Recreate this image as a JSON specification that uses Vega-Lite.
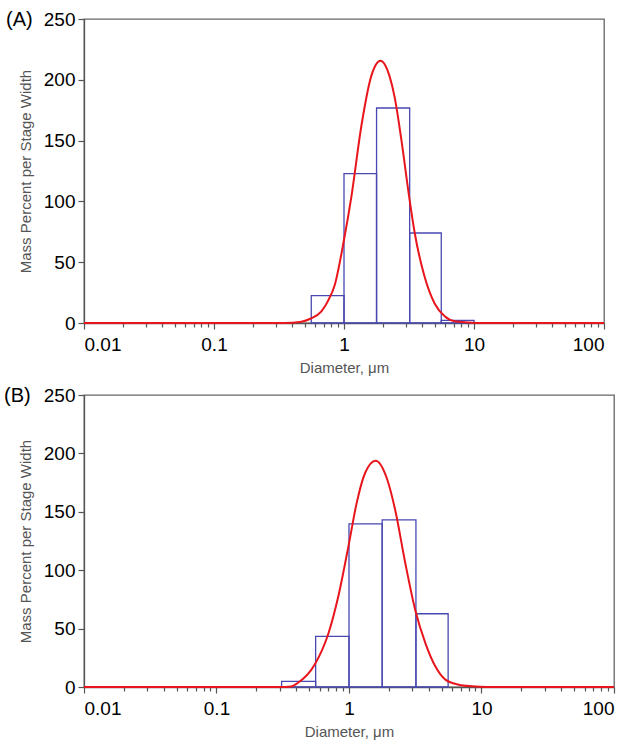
{
  "$schema": "https://vega.github.io/schema/vega-lite/v6.json",
  "padding": {"left": 3, "top": 9, "right": 0, "bottom": 0},
  "background": "white",
  "spacing": 9,
  "config": {
    "font": "Liberation Sans",
    "view": {"stroke": "#666", "strokeWidth": 1.3},
    "axis": {
      "domainColor": "#555", "domainWidth": 1.3, "tickColor": "#555", "tickWidth": 1.2,
      "grid": false, "labelFont": "Liberation Sans", "labelFontSize": 19, "labelColor": "#000",
      "titleFont": "Liberation Sans", "titleFontSize": 15, "titleFontWeight": "normal", "titleColor": "#555"
    },
    "title": {"font": "Liberation Sans", "fontSize": 20, "fontWeight": "normal", "color": "#000"}
  },
  "datasets": {
    "barsA": [
      {"lo": 0.56, "hi": 1.0, "v": 22.5},
      {"lo": 1.0, "hi": 1.78, "v": 122.8},
      {"lo": 1.78, "hi": 3.2, "v": 176.8},
      {"lo": 3.2, "hi": 5.6, "v": 74},
      {"lo": 5.6, "hi": 10, "v": 2.2}
    ],
    "curveA": [
      {"d": 0.01, "v": 0}, {"d": 0.3, "v": 0}, {"d": 0.4, "v": 0.3}, {"d": 0.47, "v": 1},
      {"d": 0.55, "v": 3.5}, {"d": 0.67, "v": 9.6}, {"d": 0.75, "v": 17.8}, {"d": 0.85, "v": 31.5},
      {"d": 1.0, "v": 68.5}, {"d": 1.14, "v": 104}, {"d": 1.36, "v": 162}, {"d": 1.62, "v": 203},
      {"d": 1.91, "v": 215.7}, {"d": 2.24, "v": 203}, {"d": 2.45, "v": 186}, {"d": 2.76, "v": 151},
      {"d": 3.14, "v": 107}, {"d": 3.5, "v": 74}, {"d": 4.17, "v": 38}, {"d": 4.98, "v": 16},
      {"d": 5.95, "v": 5.5}, {"d": 7.1, "v": 1.4}, {"d": 9, "v": 0.5}, {"d": 12, "v": 0}, {"d": 100, "v": 0}
    ],
    "barsB": [
      {"lo": 0.31, "hi": 0.56, "v": 4.8},
      {"lo": 0.56, "hi": 1.0, "v": 43.3},
      {"lo": 1.0, "hi": 1.78, "v": 139.7},
      {"lo": 1.78, "hi": 3.2, "v": 143.1},
      {"lo": 3.2, "hi": 5.6, "v": 62.7}
    ],
    "curveB": [
      {"d": 0.01, "v": 0}, {"d": 0.3, "v": 0}, {"d": 0.366, "v": 0.5}, {"d": 0.41, "v": 3.4},
      {"d": 0.55, "v": 19}, {"d": 0.7, "v": 46}, {"d": 0.83, "v": 77.5}, {"d": 1.0, "v": 123},
      {"d": 1.14, "v": 157}, {"d": 1.32, "v": 183}, {"d": 1.59, "v": 193.8}, {"d": 1.93, "v": 178.7},
      {"d": 2.23, "v": 151.7}, {"d": 2.66, "v": 106}, {"d": 3.16, "v": 66}, {"d": 3.77, "v": 37.6},
      {"d": 4.48, "v": 17.7}, {"d": 5.34, "v": 6.3}, {"d": 6.73, "v": 2}, {"d": 8.5, "v": 0.6},
      {"d": 11, "v": 0}, {"d": 100, "v": 0}
    ]
  },
  "vconcat": [
    {
      "width": 520, "height": 304,
      "title": {"text": "(A)", "anchor": "start", "frame": "group", "offset": 0, "dx": -78, "dy": 20},
      "resolve": {"axis": {"x": "independent"}},
      "layer": [
        {
          "data": {"name": "barsA"},
          "mark": {"type": "rect", "fill": null, "fillOpacity": 0, "stroke": "#4848b0", "strokeWidth": 1.3},
          "encoding": {
            "x": {"field": "lo", "type": "quantitative", "scale": {"type": "log", "domain": [0.01, 100], "nice": false},
                  "axis": {"orient": "bottom", "values": [0.02,0.03,0.04,0.05,0.06,0.07,0.08,0.09,0.2,0.3,0.4,0.5,0.6,0.7,0.8,0.9,2,3,4,5,6,7,8,9,20,30,40,50,60,70,80,90], "labels": false, "domain": false, "tickSize": 4, "title": null}},
            "x2": {"field": "hi"},
            "y": {"field": "v", "type": "quantitative", "scale": {"domain": [0, 250], "nice": false},
                  "axis": {"values": [0, 50, 100, 150, 200, 250], "format": "d", "tickSize": 6, "labelPadding": 3, "titlePadding": 10, "title": "Mass Percent per Stage Width"}},
            "y2": {"datum": 0}
          }
        },
        {
          "data": {"name": "curveA"},
          "mark": {"type": "line", "color": "#e8161c", "strokeWidth": 2, "interpolate": "monotone"},
          "encoding": {
            "x": {"field": "d", "type": "quantitative",
                  "axis": {"orient": "bottom", "values": [0.01, 0.1, 1, 10, 100], "format": "~g", "tickSize": 6, "labelPadding": 6, "titlePadding": 6, "title": "Diameter, μm"}},
            "y": {"field": "v", "type": "quantitative"}
          }
        }
      ]
    },
    {
      "width": 530, "height": 292,
      "title": {"text": "(B)", "anchor": "start", "frame": "group", "offset": 0, "dx": -80, "dy": 20},
      "resolve": {"axis": {"x": "independent"}},
      "layer": [
        {
          "data": {"name": "barsB"},
          "mark": {"type": "rect", "fill": null, "fillOpacity": 0, "stroke": "#4848b0", "strokeWidth": 1.3},
          "encoding": {
            "x": {"field": "lo", "type": "quantitative", "scale": {"type": "log", "domain": [0.01, 100], "nice": false},
                  "axis": {"orient": "bottom", "values": [0.02,0.03,0.04,0.05,0.06,0.07,0.08,0.09,0.2,0.3,0.4,0.5,0.6,0.7,0.8,0.9,2,3,4,5,6,7,8,9,20,30,40,50,60,70,80,90], "labels": false, "domain": false, "tickSize": 4, "title": null}},
            "x2": {"field": "hi"},
            "y": {"field": "v", "type": "quantitative", "scale": {"domain": [0, 250], "nice": false},
                  "axis": {"values": [0, 50, 100, 150, 200, 250], "format": "d", "tickSize": 6, "labelPadding": 3, "titlePadding": 10, "title": "Mass Percent per Stage Width"}},
            "y2": {"datum": 0}
          }
        },
        {
          "data": {"name": "curveB"},
          "mark": {"type": "line", "color": "#e8161c", "strokeWidth": 2, "interpolate": "monotone"},
          "encoding": {
            "x": {"field": "d", "type": "quantitative",
                  "axis": {"orient": "bottom", "values": [0.01, 0.1, 1, 10, 100], "format": "~g", "tickSize": 6, "labelPadding": 6, "titlePadding": 6, "title": "Diameter, μm"}},
            "y": {"field": "v", "type": "quantitative"}
          }
        }
      ]
    }
  ]
}
